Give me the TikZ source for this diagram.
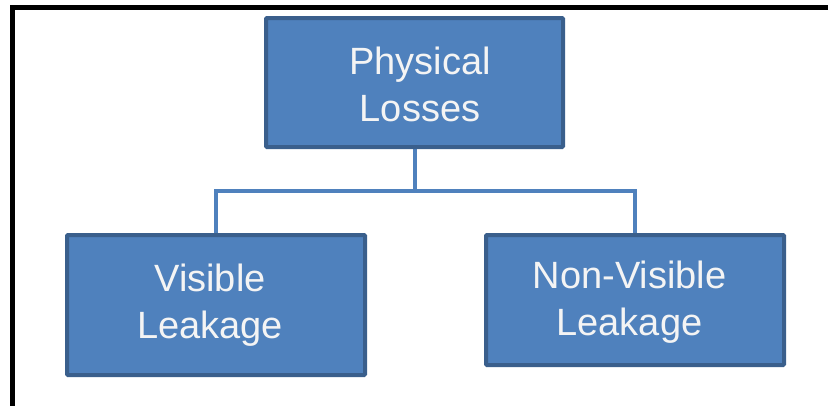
\documentclass[tikz,border=0pt]{standalone}
\usepackage{fontspec}
\setmainfont{Liberation Sans}
\usetikzlibrary{backgrounds}
\definecolor{boxfill}{HTML}{4F81BD}
\definecolor{boxline}{HTML}{3A5F8C}
\definecolor{boxtext}{HTML}{F4F4F4}
\begin{document}
\begin{tikzpicture}[x=1pt,y=-1pt,
  orgbox/.style={draw=boxline, fill=boxfill, line width=4pt, rounded corners=1pt,
    inner sep=0pt},
  boxlabel/.style={text=boxtext, align=center, inner sep=0pt,
    font=\fontsize{38}{47}\selectfont},
  conn/.style={draw=boxfill, line width=4pt}]
  \useasboundingbox (0,0) rectangle (828,405);
  % outer frame, running off the right and bottom edges
  \draw[line width=5pt, black] (12.5,420) -- (12.5,7) -- (840,7);
  % boxes
  \node[orgbox, minimum width=297pt, minimum height=129pt] (top) at (414.5,82.5) {};
  \node[orgbox, minimum width=298pt, minimum height=140pt] (left) at (216,305) {};
  \node[orgbox, minimum width=298pt, minimum height=130pt] (right) at (635,300) {};
  % box captions
  \node[boxlabel] (toplabel) at ([xshift=5.5pt,yshift=-2pt]top.center) {Physical\\Losses};
  \node[boxlabel] (leftlabel) at ([xshift=-6pt,yshift=0pt]left.center) {Visible\\Leakage};
  \node[boxlabel] (rightlabel) at ([xshift=-5.5pt,yshift=-2pt]right.center) {Non-Visible\\Leakage};
  % tree connector
  \coordinate (bus) at (414.5,191);
  \begin{scope}[on background layer]
    \draw[conn] (top.south) -- (bus);
    \draw[conn] (left.north) |- (bus) -| (right.north);
  \end{scope}
\end{tikzpicture}
\end{document}
